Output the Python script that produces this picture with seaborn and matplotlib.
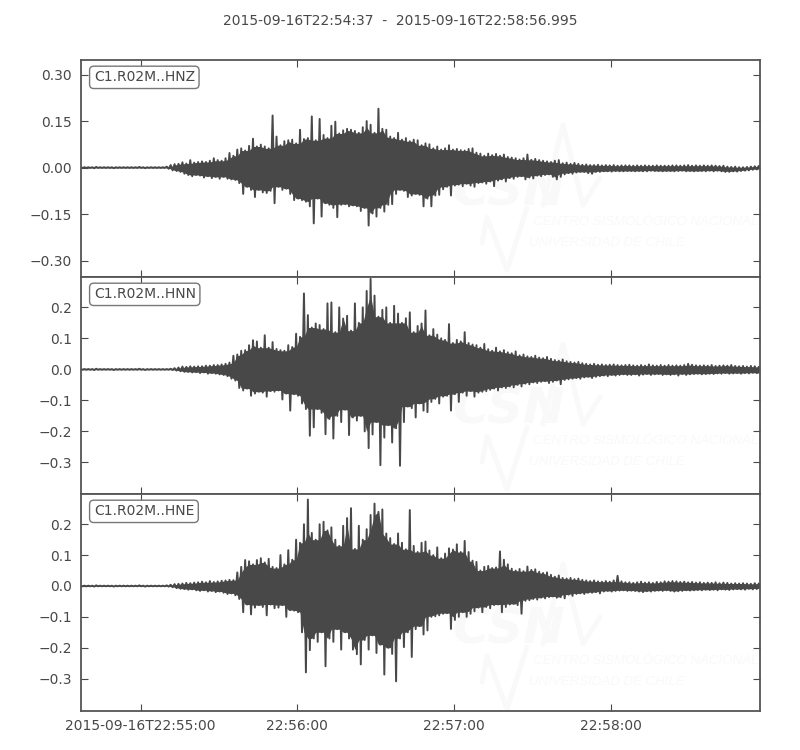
import numpy as np
import pandas as pd
import matplotlib
matplotlib.use("Agg")
import matplotlib.pyplot as plt
import seaborn as sns

# Peaks, in 1/1000 units, one value per 1.5 s
START = "2015-09-16T22:54:37"
END = "2015-09-16T22:58:56.995"
SAMPLE_STEP = 1.5
QUIET_UP = [1, 1, 1, 1, 2, 1, 1, 1, 1, 1] + [1, 1, 1, 1, 1, 2, 1, 1, 1, 1]
QUIET_DOWN = [-1, -1, -1, -2, -1, -1, -1, -1, -2, -1] + [-1, -1, -1, -1, -1, -1, -2, -1, -1, -1]

HNZ_UP = QUIET_UP + [
    1, 1, 3, 8, 11, 12, 17, 13, 24, 16,
    18, 20, 18, 22, 30, 24, 22, 30, 47, 38,
    58, 62, 55, 70, 93, 68, 74, 68, 62, 168,
    100, 72, 85, 88, 90, 78, 122, 92, 95, 165,
    88, 157, 105, 95, 135, 148, 110, 120, 125, 122,
    118, 112, 130, 150, 138, 112, 190, 125, 122, 100,
    95, 112, 90, 95, 85, 90, 88, 72, 78, 75,
    62, 68, 58, 62, 72, 58, 60, 56, 55, 60,
    62, 48, 45, 38, 45, 40, 44, 38, 42, 34,
    32, 30, 26, 30, 42, 25, 28, 24, 22, 20,
    18, 22, 24, 14, 16, 12, 15, 12, 9, 10,
    8, 8, 9, 7, 8, 7, 8, 6, 7, 7,
    7, 6, 7, 6, 7, 6, 6, 7, 6, 6,
    6, 7, 7, 6, 7, 8, 6, 7, 6, 7,
    6, 7, 6, 5, 6, 3, 2, 3, 1, 1,
    2, 3, 4, 5]
HNZ_DOWN = QUIET_DOWN + [
    -1, -1, -4, -9, -11, -14, -20, -24, -28, -24,
    -26, -32, -28, -34, -30, -36, -30, -36, -38, -40,
    -50, -85, -62, -72, -95, -72, -80, -82, -75, -115,
    -62, -72, -68, -85, -105, -100, -105, -110, -125, -180,
    -100, -158, -115, -120, -130, -160, -120, -118, -125, -122,
    -125, -140, -130, -187, -148, -158, -130, -142, -120, -118,
    -85, -72, -75, -95, -90, -85, -88, -125, -100, -125,
    -90, -88, -70, -62, -90, -58, -55, -60, -52, -58,
    -62, -50, -48, -52, -45, -60, -42, -38, -45, -34,
    -36, -30, -28, -38, -32, -35, -26, -28, -24, -22,
    -30, -38, -30, -22, -18, -20, -16, -14, -14, -18,
    -20, -14, -14, -12, -12, -13, -11, -12, -12, -11,
    -11, -12, -11, -12, -12, -10, -11, -11, -12, -11,
    -11, -12, -11, -10, -12, -11, -12, -11, -11, -12,
    -10, -12, -10, -12, -14, -14, -12, -13, -11, -10,
    -9, -7, -6, -5]

HNN_UP = QUIET_UP + [
    1, 1, 1, 2, 4, 6, 9, 8, 10, 9,
    10, 10, 12, 12, 14, 14, 16, 18, 22, 44,
    48, 60, 62, 78, 94, 90, 70, 110, 70, 88,
    66, 62, 60, 78, 72, 115, 105, 245, 175, 135,
    148, 143, 130, 213, 216, 120, 200, 164, 173, 125,
    213, 150, 200, 253, 292, 238, 170, 192, 200, 150,
    205, 180, 150, 165, 184, 120, 140, 148, 190, 110,
    130, 112, 100, 95, 146, 85, 95, 90, 120, 85,
    80, 78, 70, 82, 65, 60, 70, 58, 62, 55,
    52, 58, 45, 48, 42, 40, 44, 38, 36, 40,
    34, 30, 28, 32, 26, 24, 22, 24, 20, 18,
    16, 18, 15, 16, 14, 15, 16, 14, 13, 14,
    15, 13, 12, 14, 12, 16, 13, 12, 14, 12,
    14, 12, 13, 12, 14, 18, 15, 13, 12, 13,
    12, 14, 11, 12, 13, 12, 14, 11, 10, 11,
    9, 11, 10, 8]
HNN_DOWN = QUIET_DOWN + [
    -1, -1, -1, -2, -4, -6, -8, -8, -10, -9,
    -12, -10, -14, -12, -14, -16, -18, -22, -30, -36,
    -60, -68, -62, -85, -78, -72, -75, -88, -70, -72,
    -68, -97, -78, -133, -80, -85, -110, -128, -214, -187,
    -128, -140, -209, -160, -223, -150, -170, -130, -212, -155,
    -165, -150, -200, -254, -210, -170, -309, -220, -180, -236,
    -190, -311, -170, -120, -125, -155, -110, -133, -138, -105,
    -95, -110, -88, -85, -133, -80, -105, -75, -85, -70,
    -88, -75, -72, -70, -66, -62, -68, -58, -60, -55,
    -58, -50, -55, -46, -48, -42, -44, -40, -38, -44,
    -40, -36, -48, -34, -32, -30, -28, -30, -26, -24,
    -28, -24, -22, -20, -22, -18, -20, -18, -16, -18,
    -18, -16, -20, -17, -15, -18, -16, -15, -18, -16,
    -18, -16, -20, -15, -18, -16, -15, -14, -16, -15,
    -14, -15, -13, -14, -12, -14, -13, -12, -14, -12,
    -13, -11, -12, -14]

HNE_UP = QUIET_UP + [
    1, 1, 2, 4, 6, 7, 8, 10, 9, 11,
    12, 14, 12, 16, 13, 15, 17, 18, 20, 19,
    44, 62, 84, 80, 70, 84, 90, 76, 88, 62,
    58, 100, 70, 116, 85, 150, 140, 200, 280, 172,
    150, 200, 208, 180, 190, 150, 130, 195, 220, 252,
    120, 195, 150, 184, 230, 267, 240, 248, 170, 155,
    136, 170, 140, 119, 246, 130, 110, 140, 144, 115,
    100, 125, 90, 105, 122, 118, 135, 110, 146, 110,
    82, 78, 50, 62, 65, 58, 60, 112, 85, 70,
    56, 50, 55, 48, 63, 52, 54, 46, 42, 44,
    36, 30, 34, 26, 24, 26, 22, 24, 20, 18,
    16, 18, 15, 14, 16, 14, 18, 33, 15, 12,
    12, 10, 12, 14, 11, 12, 10, 13, 12, 15,
    14, 16, 15, 13, 14, 12, 13, 11, 12, 10,
    11, 10, 12, 9, 11, 10, 8, 9, 8, 9,
    8, 7, 9, 8]
HNE_DOWN = QUIET_DOWN + [
    -1, -1, -2, -4, -7, -9, -10, -12, -11, -14,
    -16, -14, -18, -16, -20, -18, -22, -26, -24, -30,
    -42, -85, -60, -92, -70, -62, -68, -95, -60, -72,
    -70, -62, -100, -78, -80, -85, -150, -280, -208, -170,
    -181, -150, -260, -170, -181, -140, -206, -150, -170, -206,
    -221, -254, -175, -206, -160, -217, -190, -287, -200, -220,
    -309, -170, -198, -150, -230, -140, -130, -157, -144, -100,
    -98, -95, -90, -88, -139, -110, -100, -85, -100, -90,
    -82, -70, -85, -68, -72, -62, -60, -85, -68, -60,
    -58, -62, -90, -48, -46, -42, -44, -38, -40, -36,
    -34, -38, -36, -40, -28, -32, -26, -24, -26, -22,
    -22, -20, -24, -18, -16, -18, -16, -15, -14, -16,
    -15, -16, -18, -20, -17, -18, -16, -15, -16, -14,
    -16, -18, -17, -16, -14, -15, -14, -13, -14, -12,
    -13, -12, -14, -11, -12, -13, -11, -10, -11, -12,
    -9, -11, -10, -8]

CHANNELS = ["C1.R02M..HNZ", "C1.R02M..HNN", "C1.R02M..HNE"]
UPS = [HNZ_UP, HNN_UP, HNE_UP]
DOWNS = [HNZ_DOWN, HNN_DOWN, HNE_DOWN]
YLIMS = [(-0.353, 0.347), (-0.402, 0.298), (-0.405, 0.298)]
YTICKS = [[-0.30, -0.15, 0.0, 0.15, 0.30],
          [-0.3, -0.2, -0.1, 0.0, 0.1, 0.2],
          [-0.3, -0.2, -0.1, 0.0, 0.1, 0.2]]
YFORMATS = ["%.2f", "%.1f", "%.1f"]
XTICKS = ["2015-09-16 22:55:00", "2015-09-16 22:56:00", "2015-09-16 22:57:00", "2015-09-16 22:58:00"]
XLABELS = ["2015-09-16T22:55:00", "22:56:00", "22:57:00", "22:58:00"]
WATERMARK_DY = [0, 219, 439]

DARK = "#484848"
PALE = "#f9f9f9"

W, H = 800, 750

sns.set_style("white")
plt.rcParams["font.family"] = ["DejaVu Sans"]


# Верх и низ по очереди, как зигзаг сейсмограммы
def build_trace(up, down):
    n = len(up)
    seconds = np.column_stack([np.arange(n) * SAMPLE_STEP,
                               np.arange(n) * SAMPLE_STEP + SAMPLE_STEP / 2]).ravel()
    values = np.column_stack([up, down]).ravel() / 1000.0
    return pd.DataFrame({
        "time": pd.Timestamp(START) + pd.to_timedelta(seconds, unit="s"),
        "value": values
    })


# Сплошное тело сигнала: наименьшие из соседних пиков, выбросы остаются снаружи
def build_body(up, down):
    seconds = np.arange(len(up)) * SAMPLE_STEP
    return pd.DataFrame({
        "time": pd.Timestamp(START) + pd.to_timedelta(seconds, unit="s"),
        "upper": pd.Series(up).rolling(3, center=True, min_periods=1).min() / 1000.0,
        "lower": pd.Series(down).rolling(3, center=True, min_periods=1).max() / 1000.0
    })


def px(x, y):
    return x / W, 1 - y / H


def draw_watermark(ax, fig, dy):
    big_x, big_y = px(452, 205 + dy)
    ax.text(big_x, big_y, "CSN", transform=fig.transFigure, fontsize=36, style="italic",
            fontweight="bold", color=PALE, zorder=0)
    line1_x, line1_y = px(533, 222 + dy)
    ax.text(line1_x, line1_y, "CENTRO SISMOLÓGICO NACIONAL", transform=fig.transFigure,
            fontsize=9.5, family="Liberation Sans", style="italic", color=PALE,
            va="center", zorder=0)
    line2_x, line2_y = px(529, 243 + dy)
    ax.text(line2_x, line2_y, "UNIVERSIDAD DE CHILE", transform=fig.transFigure,
            fontsize=9.5, family="Liberation Sans", style="italic", color=PALE,
            va="center", zorder=0)
    for xs, ys in [([482, 487, 507, 527], [243, 217, 270, 208]),
                   ([543, 563, 583, 600], [205, 125, 205, 178])]:
        pts = [px(a, b + dy) for a, b in zip(xs, ys)]
        ax.plot([p[0] for p in pts], [p[1] for p in pts], transform=fig.transFigure,
                color=PALE, lw=3.5, zorder=0)


fig, axes = plt.subplots(3, 1, figsize=(8, 7.5), dpi=100, sharex=True)
fig.subplots_adjust(left=80.5 / W, right=760 / W, top=1 - 60 / H, bottom=1 - 711 / H, hspace=0)

for i, ax in enumerate(axes):
    df = build_trace(UPS[i], DOWNS[i])
    body = build_body(UPS[i], DOWNS[i])
    ax.fill_between(body["time"], body["lower"], body["upper"], color=DARK, lw=0, zorder=2)
    sns.lineplot(data=df, x="time", y="value", ax=ax, estimator=None, sort=False,
                 color=DARK, linewidth=1.4, zorder=3)
    draw_watermark(ax, fig, WATERMARK_DY[i])

    ax.set_xlim(pd.Timestamp(START), pd.Timestamp(END))
    ax.set_ylim(*YLIMS[i])
    ax.set_yticks(YTICKS[i])
    ax.set_yticklabels([(YFORMATS[i] % v).replace("-", "\u2212") for v in YTICKS[i]])
    ax.set_xticks([pd.Timestamp(t) for t in XTICKS])
    ax.set_xticklabels(XLABELS)
    ax.set_xlabel("")
    ax.set_ylabel("")
    ax.tick_params(axis="both", which="major", direction="in", length=5, width=0.8,
                   top=True, right=True, bottom=True, left=True, color=DARK,
                   labelcolor=DARK, labelsize=10, pad=6)
    for spine in ax.spines.values():
        spine.set_color("#555555")
        spine.set_linewidth(1.3)
        spine.set_zorder(5)
    ax.text(0.0195, 0.92, CHANNELS[i], transform=ax.transAxes, fontsize=10, color=DARK,
            va="center", ha="left", zorder=6,
            bbox=dict(boxstyle="round,pad=0.3", fc="white", ec="#777777", lw=1.0))

fig.text(400 / W, 1 - 21 / H, "2015-09-16T22:54:37  -  2015-09-16T22:58:56.995",
         ha="center", va="center", fontsize=10, color=DARK)

fig.savefig("out.png", dpi=100)
